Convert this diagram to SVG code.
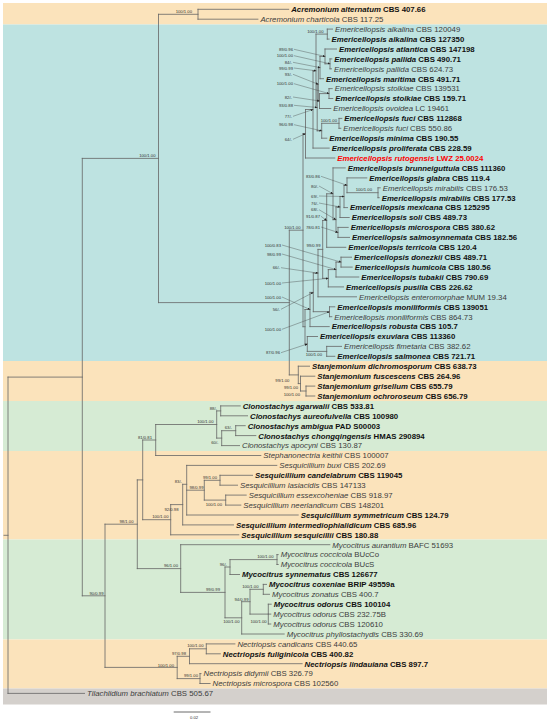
<svg xmlns="http://www.w3.org/2000/svg" width="550" height="720" viewBox="0 0 550 720">
<defs>
<style>
.t{font-family:"Liberation Sans",Arial,sans-serif;font-size:7.8px;fill:#3c3c3c}
.b{font-weight:bold;fill:#111}
.i{font-style:italic}
.red{fill:#ff0000}
.s{font-family:"Liberation Sans",Arial,sans-serif;font-size:4.2px;fill:#333;text-anchor:end}
.br{stroke:#666;stroke-width:0.8;fill:none;stroke-linecap:square}
.ld{stroke:#444;stroke-width:0.4;fill:none;marker-end:url(#ah)}
</style>
<marker id="ah" viewBox="0 0 6 6" refX="6" refY="3" markerWidth="2.4" markerHeight="2.4" markerUnits="userSpaceOnUse" orient="auto"><path d="M0,0L6,3L0,6z" fill="#222"/></marker>
</defs>
<rect width="550" height="720" fill="#fff"/>
<g id="bands">
<rect x="3" y="3" width="544" height="21.5" fill="#fbe3bb"/>
<rect x="3" y="24.5" width="544" height="336.5" fill="#bee3e1"/>
<rect x="3" y="361" width="544" height="40" fill="#fbe3bb"/>
<rect x="3" y="401" width="544" height="50" fill="#d6ebd4"/>
<rect x="3" y="451" width="544" height="88.5" fill="#fbe3bb"/>
<rect x="3" y="539.5" width="544" height="100" fill="#d6ebd4"/>
<rect x="3" y="639.5" width="544" height="49" fill="#fbe3bb"/>
<rect x="3" y="688.5" width="544" height="16" fill="#d4d0cc"/>
</g>
<g id="connectors">
<path class="br" d="M4,535.3H8 M8,377.1V693.4 M8,377.1H82.3 M8,693.4H84.5 M82.3,158.4V595.8 M82.3,158.4H158.5 M82.3,595.8H105 M158.5,14.3V302.6 M158.5,14.3H198 M158.5,302.6H289.3 M198,9.3V19.2 M198,9.3H288.7 M198,19.2H257.9 M289.3,230.2V374.9 M289.3,230.2H303 M289.3,374.9H298.3 M303,133.7V326.7 M303,133.7H305.5 M303,326.7H305"/>
<path class="br" d="M305.5,109.5V158 M305.5,109.5H313 M305.5,158H334.8 M313,70.8V148.1 M313,70.8H316 M313,148.1H329.2 M316,34.1V107.5 M316,34.1H327.3 M316,107.5H317.2 M327.3,29.1V39.1 M327.3,29.1H332.5 M327.3,39.1H329.1 M317.2,84.3V130.8 M317.2,84.3H318.3 M317.2,130.8H321.7 M318.3,67.6V101 M318.3,67.6H320 M318.3,101H319.5 M320,56.4V78.7 M320,56.4H325 M320,78.7H323.5 M325,49V63.8 M325,49H336.5 M325,63.8H330 M330,58.9V68.8 M330,58.9H331.8 M330,68.8H331.5 M319.5,93.6V108.5 M319.5,93.6H329 M319.5,108.5H330.8 M329,88.6V98.5 M329,88.6H332.2 M329,98.5H332.8 M321.7,123.3V138.2 M321.7,123.3H339 M321.7,138.2H326.8 M339,118.4V128.3 M339,118.4H341.8 M339,128.3H340.8"/>
<path class="br" d="M305,309.5V344 M305,309.5H310 M305,344H307.3 M310,292.4V326.6 M310,292.4H313.3 M310,326.6H329.2 M313.3,273.1V311.7 M313.3,273.1H318 M313.3,311.7H329.5 M318,249.4V296.8 M318,249.4H322.7 M318,296.8H356.5 M322.7,220.5V278.3 M322.7,220.5H326.7 M322.7,278.3H328.3 M326.7,193.8V247.3 M326.7,193.8H333 M326.7,247.3H345.8 M333,167.9V219.7 M333,167.9H345.2 M333,219.7H336 M336,207V232.4 M336,207H340 M336,232.4H338 M340,196.5V217.5 M340,196.5H344 M340,217.5H349.2 M344,185.3V207.6 M344,185.3H347 M344,207.6H347.5 M347,177.9V192.7 M347,177.9H366.8 M347,192.7H378 M378,187.8V197.7 M378,187.8H380.2 M378,197.7H379.2 M338,227.4V237.4 M338,227.4H348.2 M338,237.4H349.5 M328.3,269.6V286.9 M328.3,269.6H336 M328.3,286.9H343.5 M336,262.1V277 M336,262.1H341 M336,277H358.8 M341,257.2V267.1 M341,257.2H351.5 M341,267.1H352.2 M329.5,306.8V316.7 M329.5,306.8H334.8 M329.5,316.7H331.8 M307.3,336.5V351.4 M307.3,336.5H317.5 M307.3,351.4H326.7 M326.7,346.4V356.3 M326.7,346.4H341.5 M326.7,356.3H334.8"/>
<path class="br" d="M298.3,366.2V383.6 M298.3,366.2H309.5 M298.3,383.6H300.5 M300.5,376.2V391 M300.5,376.2H314.8 M300.5,391H306 M306,386.1V396 M306,386.1H314.8 M306,396H314.8"/>
<path class="br" d="M105,524.2V667.4 M105,524.2H137.3 M105,667.4H177.2 M137.3,479.9V568.6 M137.3,479.9H142.7 M137.3,568.6H180.7 M142.7,440V519.7 M142.7,440H155.7 M142.7,519.7H170.7 M155.7,424.5V455.5 M155.7,424.5H216.7 M155.7,455.5H260.8 M216.7,410.9V438.1 M216.7,410.9H220.7 M216.7,438.1H221.7 M220.7,405.9V415.8 M220.7,405.9H240.2 M220.7,415.8H247.5 M221.7,430.7V445.6 M221.7,430.7H235.7 M221.7,445.6H239.5 M235.7,425.7V435.6 M235.7,425.7H245.2 M235.7,435.6H255.8"/>
<path class="br" d="M170.7,504.6V534.8 M170.7,504.6H182.7 M170.7,534.8H238.8 M182.7,484.3V524.9 M182.7,484.3H186.7 M182.7,524.9H233.5 M186.7,465.4V515 M186.7,465.4H276.8 M186.7,490.2H204.3 M186.7,515H298.2 M204.3,480.3V500.1 M204.3,480.3H220 M204.3,500.1H225.7 M220,475.3V485.2 M220,475.3H252.5 M220,485.2H237.5 M225.7,495.1V505.1 M225.7,495.1H246.2 M225.7,505.1H240.8"/>
<path class="br" d="M180.7,544.7V592.4 M180.7,544.7H329.8 M180.7,592.4H225 M225,567V617.8 M225,567H230 M225,617.8H241.7 M230,559.6V574.5 M230,559.6H277 M230,574.5H239.5 M277,554.6V564.5 M277,554.6H278.2 M277,564.5H278.2 M241.7,601.7V634 M241.7,601.7H250 M241.7,634H284.2 M250,589.3V614.1 M250,589.3H263.3 M250,614.1H268.3 M263.3,584.4V594.3 M263.3,584.4H266.5 M263.3,594.3H269.5 M268.3,604.2V624 M268.3,604.2H271.2 M268.3,614.1H270.8 M268.3,624H270.8"/>
<path class="br" d="M177.2,656.3V678.6 M177.2,656.3H189.5 M177.2,678.6H200 M189.5,648.8V663.7 M189.5,648.8H206.3 M189.5,663.7H302.1 M206.3,643.9V653.8 M206.3,643.9H234.9 M206.3,653.8H220.3 M200,673.6V683.5 M200,673.6H201 M200,683.5H210.1"/>
<g id="leaders">
<path class="ld" d="M294,49.3L325,56.4"/>
<path class="ld" d="M294,55.7L330,63.8"/>
<path class="ld" d="M293,62.3L320,67.6"/>
<path class="ld" d="M294,68L316,70.8"/>
<path class="ld" d="M293,74.3L318.3,84.3"/>
<path class="ld" d="M294,83.7L329,93.6"/>
<path class="ld" d="M293,97L319.5,101"/>
<path class="ld" d="M294,105.3L317.2,107.5"/>
<path class="ld" d="M293,116.3L313,109.5"/>
<path class="ld" d="M294,124.7L321.7,130.8"/>
<path class="ld" d="M293,139.3L305.5,133.7"/>
<path class="ld" d="M321,176.3L347,185.3"/>
<path class="ld" d="M319,186L333,193.8"/>
<path class="ld" d="M319,196L344,196.5"/>
<path class="ld" d="M319,203L340,207"/>
<path class="ld" d="M319,209.7L336,219.7"/>
<path class="ld" d="M321,216.3L326.7,220.5"/>
<path class="ld" d="M321,227L338,232.4"/>
<path class="ld" d="M282,245L341,262.1"/>
<path class="ld" d="M282,254L336,269.6"/>
<path class="ld" d="M281,267.7L318,273.1"/>
<path class="ld" d="M282,283L328.3,278.3"/>
<path class="ld" d="M282,297L310,309.5"/>
<path class="ld" d="M281,309.3L313.3,292.4"/>
<path class="ld" d="M282,329.3L329.5,311.7"/>
<path class="ld" d="M281,352.7L307.3,344"/>
</g>
<path d="M173.7,712H210.5" stroke="#444" stroke-width="0.8"/>
</g>
<g id="support">
<text class="s" x="192" y="13">100/1.00</text>
<text class="s" x="155.5" y="156.5">100/1.00</text>
<text class="s" x="323.5" y="32.5">100/1.00</text>
<text class="s" x="293" y="50.8">89/0.96</text>
<text class="s" x="293" y="57.2">100/1.00</text>
<text class="s" x="292" y="63.8">84/-</text>
<text class="s" x="293" y="69.5">99/0.99</text>
<text class="s" x="292" y="75.8">93/-</text>
<text class="s" x="293" y="85.2">100/1.00</text>
<text class="s" x="292" y="98.5">82/-</text>
<text class="s" x="293" y="106.8">93/0.88</text>
<text class="s" x="292" y="117.8">77/-</text>
<text class="s" x="337" y="121.8">100/1.00</text>
<text class="s" x="293" y="126.2">96/0.98</text>
<text class="s" x="292" y="140.8">64/-</text>
<text class="s" x="320" y="177.8">83/0.86</text>
<text class="s" x="372" y="190.5">100/1.00</text>
<text class="s" x="318.3" y="187.5">80/-</text>
<text class="s" x="318.3" y="197.5">69/-</text>
<text class="s" x="318.3" y="204.5">76/-</text>
<text class="s" x="318.3" y="211.2">68/-</text>
<text class="s" x="320" y="217.8">91/0.87</text>
<text class="s" x="300.5" y="228.5">100/1.00</text>
<text class="s" x="320" y="228.5">78/0.81</text>
<text class="s" x="320.5" y="246.5">99/0.99</text>
<text class="s" x="281" y="246.5">100/0.83</text>
<text class="s" x="281" y="255.5">98/0.99</text>
<text class="s" x="280" y="269.2">66/-</text>
<text class="s" x="281" y="284.5">100/1.00</text>
<text class="s" x="281" y="298.5">100/1.00</text>
<text class="s" x="280" y="310.8">56/-</text>
<text class="s" x="281" y="330.8">100/1.00</text>
<text class="s" x="280" y="354.2">87/0.96</text>
<text class="s" x="322" y="356">100/1.00</text>
<text class="s" x="289.3" y="381.5">99/1.00</text>
<text class="s" x="298" y="389">99/1.00</text>
<text class="s" x="300" y="396">100/1.00</text>
<text class="s" x="217" y="409.5">88/-</text>
<text class="s" x="213.5" y="423">100/1.00</text>
<text class="s" x="232" y="429">63/-</text>
<text class="s" x="218.5" y="443.5">60/-</text>
<text class="s" x="152" y="438.5">81/0.81</text>
<text class="s" x="182" y="483">83/-</text>
<text class="s" x="217" y="478.5">99/1.00</text>
<text class="s" x="203.5" y="488.5">98/0.99</text>
<text class="s" x="222" y="505.5">100/1.00</text>
<text class="s" x="178.5" y="511">92/0.98</text>
<text class="s" x="168.5" y="518">100/1.00</text>
<text class="s" x="133.5" y="522.5">98/1.00</text>
<text class="s" x="178" y="567">96/1.00</text>
<text class="s" x="273.5" y="558">100/1.00</text>
<text class="s" x="227" y="565.5">96/-</text>
<text class="s" x="220" y="591">99/0.99</text>
<text class="s" x="258.5" y="587.8">100/1.00</text>
<text class="s" x="248.5" y="600.5">94/0.99</text>
<text class="s" x="239.5" y="622.5">100/1.00</text>
<text class="s" x="266.7" y="622.5">100/1.00</text>
<text class="s" x="103.5" y="594.5">90/0.99</text>
<text class="s" x="203.5" y="647">100/1.00</text>
<text class="s" x="186" y="654.8">97/0.98</text>
<text class="s" x="174" y="666.5">100/1.00</text>
<text class="s" x="198" y="677.3">99/1.00</text>
<text class="s" x="194" y="718.5" style="text-anchor:middle">0.02</text>
</g>
<g id="taxa">
<g id="t00"><text class="t b" x="291.2" y="12.1"><tspan class="i">Acremonium alternatum</tspan> CBS 407.66</text></g>
<g id="t01"><text class="t" x="260.4" y="22"><tspan class="i">Acremonium charticola</tspan> CBS 117.25</text></g>
<g id="t02"><text class="t" x="335" y="31.9"><tspan class="i">Emericellopsis alkalina</tspan> CBS 120049</text></g>
<g id="t03"><text class="t b" x="331.6" y="41.9"><tspan class="i">Emericellopsis alkalina</tspan> CBS 127350</text></g>
<g id="t04"><text class="t b" x="339" y="51.8"><tspan class="i">Emericellopsis atlantica</tspan> CBS 147198</text></g>
<g id="t05"><text class="t b" x="334.3" y="61.7"><tspan class="i">Emericellopsis pallida</tspan> CBS 490.71</text></g>
<g id="t06"><text class="t" x="334" y="71.6"><tspan class="i">Emericellopsis pallida</tspan> CBS 624.73</text></g>
<g id="t07"><text class="t b" x="326" y="81.5"><tspan class="i">Emericellopsis maritima</tspan> CBS 491.71</text></g>
<g id="t08"><text class="t" x="334.7" y="91.4"><tspan class="i">Emericellopsis stolkiae</tspan> CBS 139531</text></g>
<g id="t09"><text class="t b" x="335.3" y="101.3"><tspan class="i">Emericellopsis stolkiae</tspan> CBS 159.71</text></g>
<g id="t10"><text class="t" x="333.3" y="111.3"><tspan class="i">Emericellopsis ovoidea</tspan> LC 19461</text></g>
<g id="t11"><text class="t b" x="344.3" y="121.2"><tspan class="i">Emericellopsis fuci</tspan> CBS 112868</text></g>
<g id="t12"><text class="t" x="343.3" y="131.1"><tspan class="i">Emericellopsis fuci</tspan> CBS 550.86</text></g>
<g id="t13"><text class="t b" x="329.3" y="141"><tspan class="i">Emericellopsis minima</tspan> CBS 190.55</text></g>
<g id="t14"><text class="t b" x="331.7" y="150.9"><tspan class="i">Emericellopsis proliferata</tspan> CBS 228.59</text></g>
<g id="t15"><text class="t b red" x="337.3" y="160.8"><tspan class="i">Emericellopsis rutogensis</tspan> LWZ 25.0024</text></g>
<g id="t16"><text class="t b" x="347.7" y="170.7"><tspan class="i">Emericellopsis brunneiguttula</tspan> CBS 111360</text></g>
<g id="t17"><text class="t b" x="369.3" y="180.7"><tspan class="i">Emericellopsis glabra</tspan> CBS 119.4</text></g>
<g id="t18"><text class="t" x="382.7" y="190.6"><tspan class="i">Emericellopsis mirabilis</tspan> CBS 176.53</text></g>
<g id="t19"><text class="t b" x="381.7" y="200.5"><tspan class="i">Emericellopsis mirabilis</tspan> CBS 177.53</text></g>
<g id="t20"><text class="t b" x="350" y="210.4"><tspan class="i">Emericellopsis mexicana</tspan> CBS 125295</text></g>
<g id="t21"><text class="t b" x="351.7" y="220.3"><tspan class="i">Emericellopsis soli</tspan> CBS 489.73</text></g>
<g id="t22"><text class="t b" x="350.7" y="230.2"><tspan class="i">Emericellopsis microspora</tspan> CBS 380.62</text></g>
<g id="t23"><text class="t b" x="352" y="240.2"><tspan class="i">Emericellopsis salmosynnemata</tspan> CBS 182.56</text></g>
<g id="t24"><text class="t b" x="348.3" y="250.1"><tspan class="i">Emericellopsis terricola</tspan> CBS 120.4</text></g>
<g id="t25"><text class="t b" x="354" y="260"><tspan class="i">Emericellopsis donezkii</tspan> CBS 489.71</text></g>
<g id="t26"><text class="t b" x="354.7" y="269.9"><tspan class="i">Emericellopsis humicola</tspan> CBS 180.56</text></g>
<g id="t27"><text class="t b" x="361.3" y="279.8"><tspan class="i">Emericellopsis tubakii</tspan> CBS 790.69</text></g>
<g id="t28"><text class="t b" x="346" y="289.7"><tspan class="i">Emericellopsis pusilla</tspan> CBS 226.62</text></g>
<g id="t29"><text class="t" x="359" y="299.6"><tspan class="i">Emericellopsis enteromorphae</tspan> MUM 19.34</text></g>
<g id="t30"><text class="t b" x="337.3" y="309.6"><tspan class="i">Emericellopsis moniliformis</tspan> CBS 139051</text></g>
<g id="t31"><text class="t" x="334.3" y="319.5"><tspan class="i">Emericellopsis moniliformis</tspan> CBS 864.73</text></g>
<g id="t32"><text class="t b" x="331.7" y="329.4"><tspan class="i">Emericellopsis robusta</tspan> CBS 105.7</text></g>
<g id="t33"><text class="t b" x="320" y="339.3"><tspan class="i">Emericellopsis exuviara</tspan> CBS 113360</text></g>
<g id="t34"><text class="t" x="344" y="349.2"><tspan class="i">Emericellopsis fimetaria</tspan> CBS 382.62</text></g>
<g id="t35"><text class="t b" x="337.3" y="359.1"><tspan class="i">Emericellopsis salmonea</tspan> CBS 721.71</text></g>
<g id="t36"><text class="t b" x="312" y="369"><tspan class="i">Stanjemonium dichromosporum</tspan> CBS 638.73</text></g>
<g id="t37"><text class="t b" x="317.3" y="379"><tspan class="i">Stanjemonium fuscescens</tspan> CBS 264.96</text></g>
<g id="t38"><text class="t b" x="317.3" y="388.9"><tspan class="i">Stanjemonium grisellum</tspan> CBS 655.79</text></g>
<g id="t39"><text class="t b" x="317.3" y="398.8"><tspan class="i">Stanjemonium ochroroseum</tspan> CBS 656.79</text></g>
<g id="t40"><text class="t b" x="242.7" y="408.7"><tspan class="i">Clonostachys agarwalii</tspan> CBS 533.81</text></g>
<g id="t41"><text class="t b" x="250" y="418.6"><tspan class="i">Clonostachys aureofulvella</tspan> CBS 100980</text></g>
<g id="t42"><text class="t b" x="247.7" y="428.5"><tspan class="i">Clonostachys ambigua</tspan> PAD S00003</text></g>
<g id="t43"><text class="t b" x="258.3" y="438.5"><tspan class="i">Clonostachys chongqingensis</tspan> HMAS 290894</text></g>
<g id="t44"><text class="t" x="242" y="448.4"><tspan class="i">Clonostachys apocyni</tspan> CBS 130.87</text></g>
<g id="t45"><text class="t" x="263.3" y="458.3"><tspan class="i">Stephanonectria keithii</tspan> CBS 100007</text></g>
<g id="t46"><text class="t" x="279.3" y="468.2"><tspan class="i">Sesquicillium buxi</tspan> CBS 202.69</text></g>
<g id="t47"><text class="t b" x="255" y="478.1"><tspan class="i">Sesquicillium candelabrum</tspan> CBS 119045</text></g>
<g id="t48"><text class="t" x="240" y="488"><tspan class="i">Sesquicillium lasiacidis</tspan> CBS 147133</text></g>
<g id="t49"><text class="t" x="248.7" y="497.9"><tspan class="i">Sesquicillium essexcoheniae</tspan> CBS 918.97</text></g>
<g id="t50"><text class="t" x="243.3" y="507.9"><tspan class="i">Sesquicillium neerlandicum</tspan> CBS 148201</text></g>
<g id="t51"><text class="t b" x="300.7" y="517.8"><tspan class="i">Sesquicillium symmetricum</tspan> CBS 124.79</text></g>
<g id="t52"><text class="t b" x="236" y="527.7"><tspan class="i">Sesquicillium intermediophialidicum</tspan> CBS 685.96</text></g>
<g id="t53"><text class="t b" x="241.3" y="537.6"><tspan class="i">Sesquicillium sesquicillii</tspan> CBS 180.88</text></g>
<g id="t54"><text class="t" x="332.3" y="547.5"><tspan class="i">Mycocitrus aurantium</tspan> BAFC 51693</text></g>
<g id="t55"><text class="t" x="280.7" y="557.4"><tspan class="i">Mycocitrus coccicola</tspan> BUcCo</text></g>
<g id="t56"><text class="t" x="280.7" y="567.3"><tspan class="i">Mycocitrus coccicola</tspan> BUcS</text></g>
<g id="t57"><text class="t b" x="242" y="577.3"><tspan class="i">Mycocitrus synnematus</tspan> CBS 126677</text></g>
<g id="t58"><text class="t b" x="269" y="587.2"><tspan class="i">Mycocitrus coxeniae</tspan> BRIP 49559a</text></g>
<g id="t59"><text class="t" x="272" y="597.1"><tspan class="i">Mycocitrus zonatus</tspan> CBS 400.7</text></g>
<g id="t60"><text class="t b" x="273.7" y="607"><tspan class="i">Mycocitrus odorus</tspan> CBS 100104</text></g>
<g id="t61"><text class="t" x="273.3" y="616.9"><tspan class="i">Mycocitrus odorus</tspan> CBS 232.75B</text></g>
<g id="t62"><text class="t" x="273.3" y="626.8"><tspan class="i">Mycocitrus odorus</tspan> CBS 120610</text></g>
<g id="t63"><text class="t" x="286.7" y="636.8"><tspan class="i">Mycocitrus phyllostachydis</tspan> CBS 330.69</text></g>
<g id="t64"><text class="t" x="237.4" y="646.7"><tspan class="i">Nectriopsis candicans</tspan> CBS 440.65</text></g>
<g id="t65"><text class="t b" x="222.8" y="656.6"><tspan class="i">Nectriopsis fuliginicola</tspan> CBS 400.82</text></g>
<g id="t66"><text class="t b" x="304.6" y="666.5"><tspan class="i">Nectriopsis lindauiana</tspan> CBS 897.7</text></g>
<g id="t67"><text class="t" x="203.5" y="676.4"><tspan class="i">Nectriopsis didymii</tspan> CBS 326.79</text></g>
<g id="t68"><text class="t" x="212.6" y="686.3"><tspan class="i">Nectriopsis microspora</tspan> CBS 102560</text></g>
<g id="t69"><text class="t" x="87" y="696.2"><tspan class="i">Tilachlidium brachiatum</tspan> CBS 505.67</text></g>
</g>
</svg>
